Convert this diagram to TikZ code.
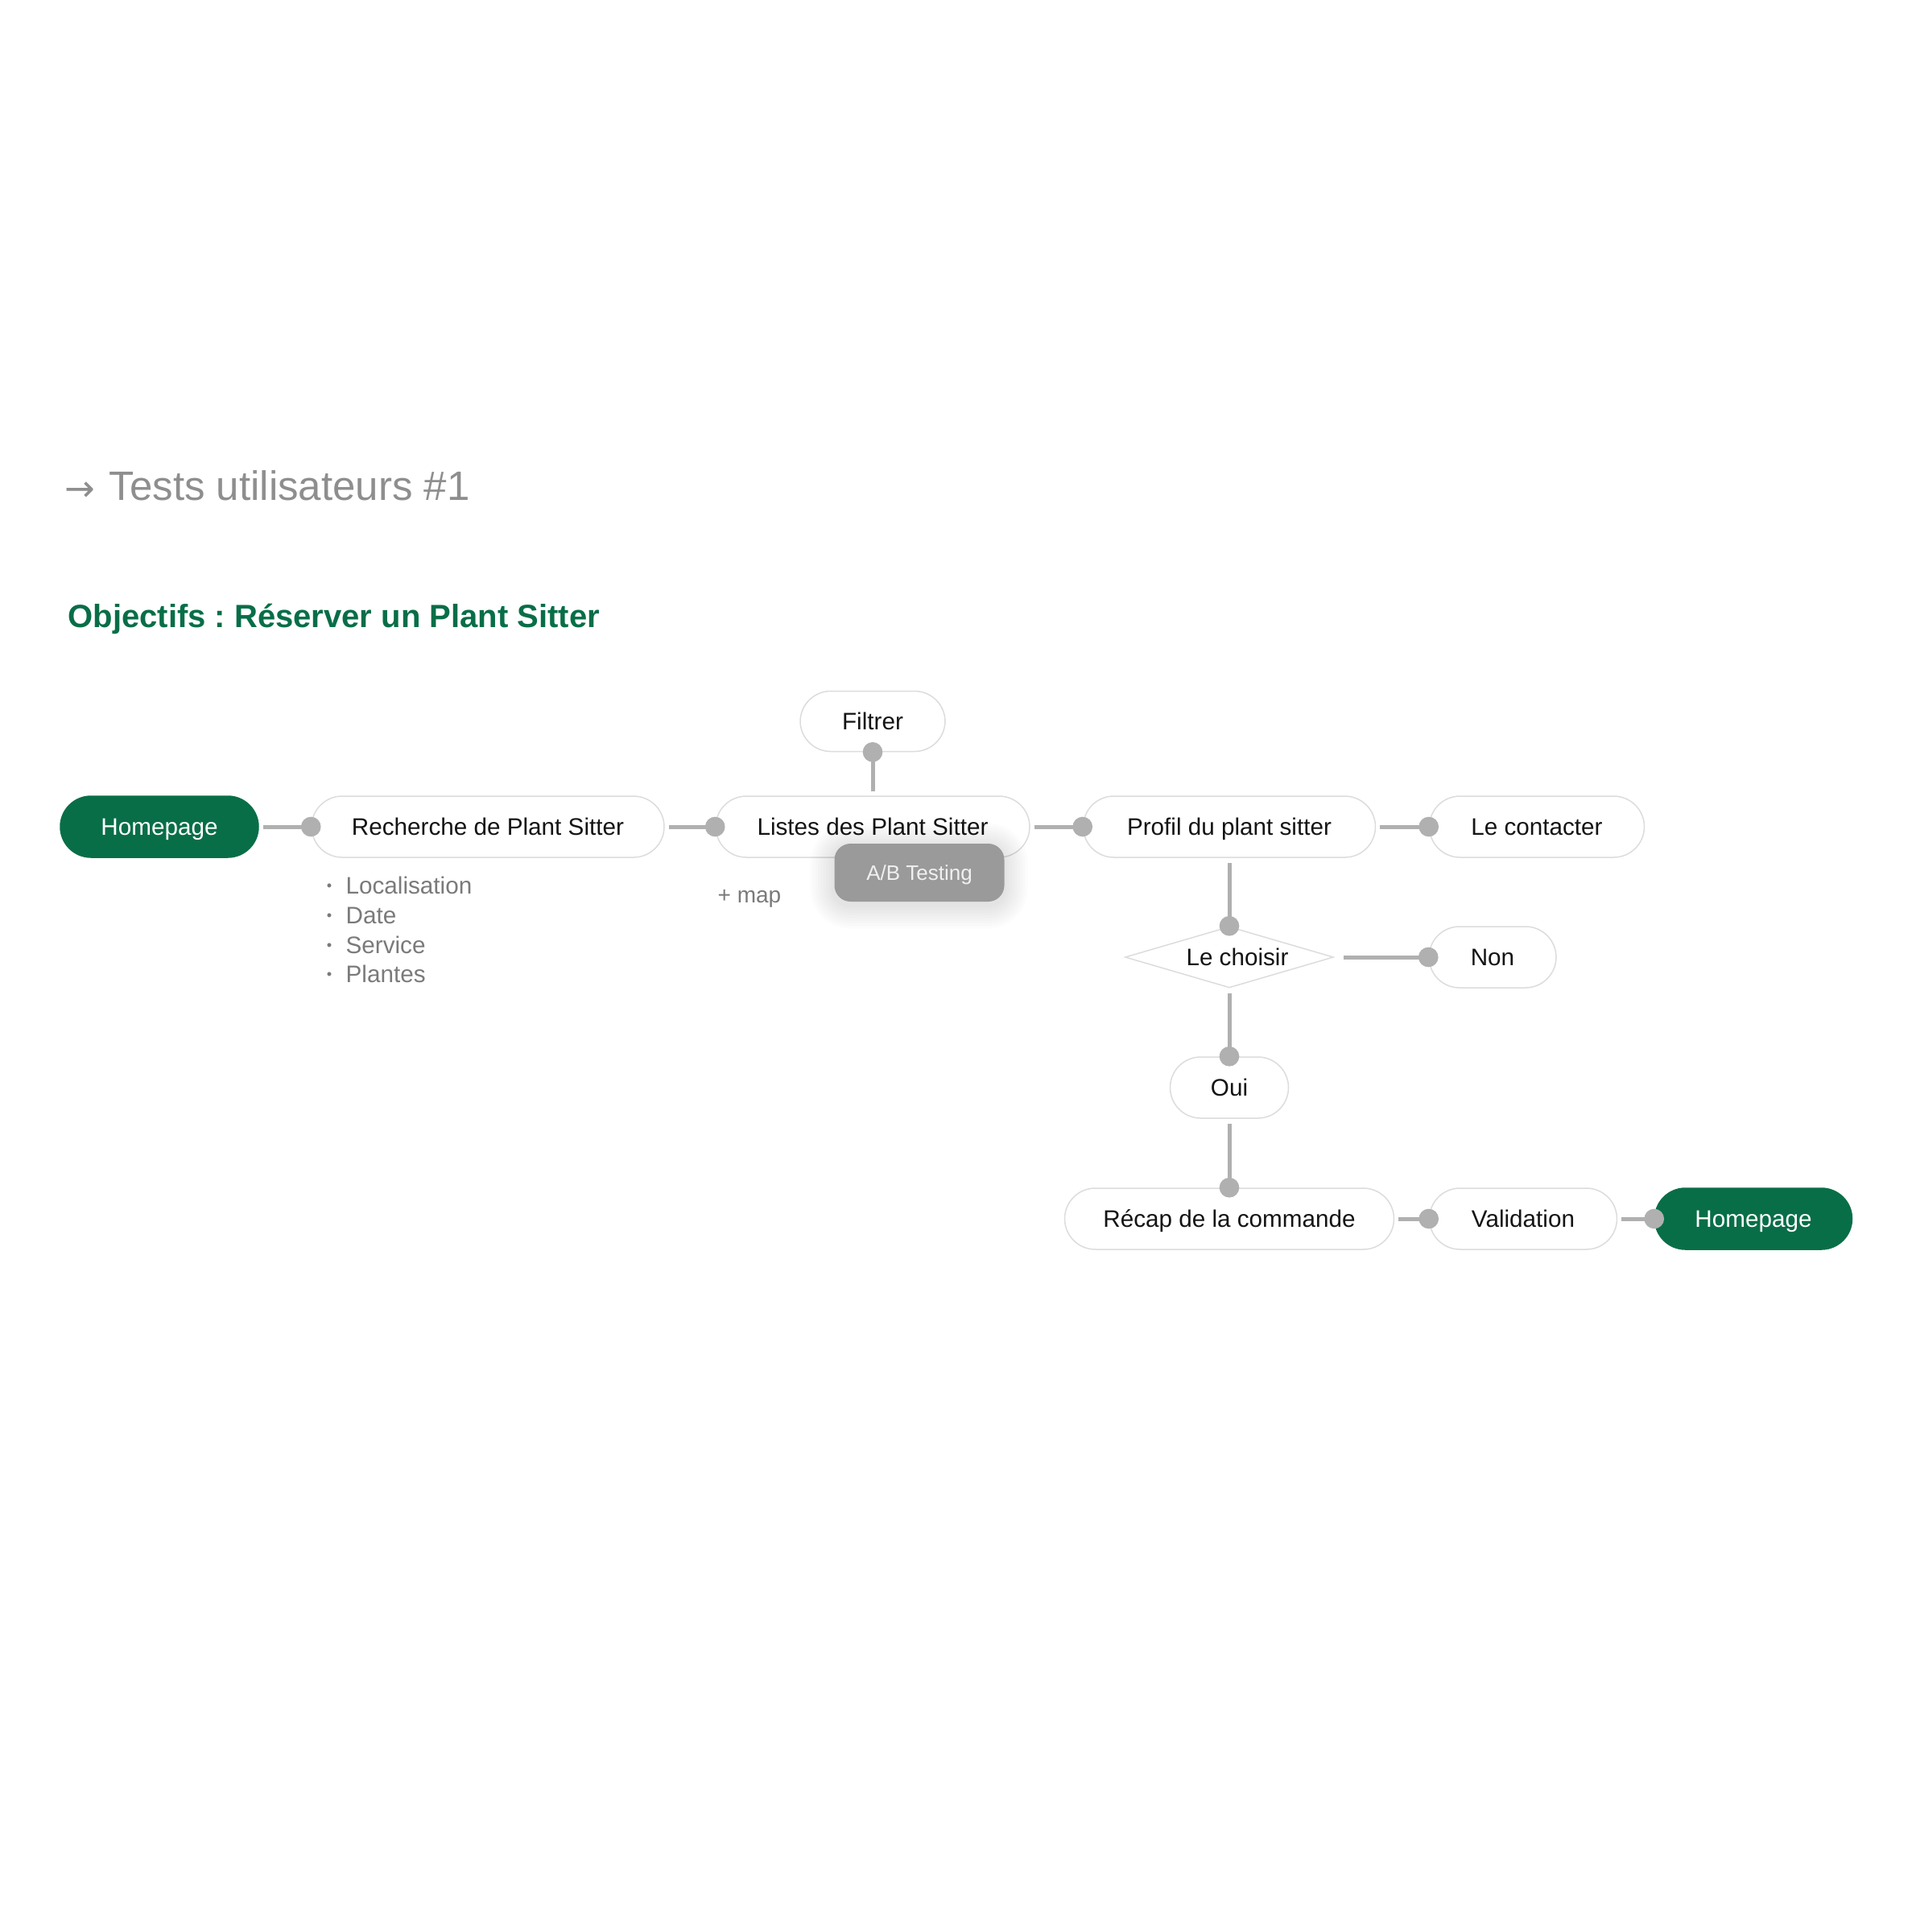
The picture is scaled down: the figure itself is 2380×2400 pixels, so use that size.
\documentclass[tikz,border=0pt]{standalone}
\usepackage{fontspec}
\setmainfont{Liberation Sans}
\newfontfamily\arrowfont{DejaVu Sans}
\usetikzlibrary{shapes.geometric}
\definecolor{brand}{HTML}{086E48}
\definecolor{titlegray}{HTML}{8E8E8E}
\definecolor{edgegray}{HTML}{DCDCDC}
\definecolor{linkgray}{HTML}{B0B0B0}
\definecolor{listgray}{HTML}{7A7A7A}
\definecolor{abgray}{HTML}{9A9A9A}
\definecolor{ink}{HTML}{141414}
\newcommand{\nodefont}{\fontsize{8.9}{10}\selectfont}
\frenchspacing
\begin{document}
\begin{tikzpicture}[x=0.3pt,y=-0.3pt,
  pill/.style={draw=edgegray, line width=0.45pt, fill=white, rounded corners=11.4pt,
    minimum height=22.8pt, inner sep=0pt, font=\nodefont, text=ink,
    text height=6.4pt, text depth=0pt},
  homebox/.style={pill, fill=brand, draw=brand, text=white},
  choice/.style={diamond, draw=edgegray, line width=0.45pt, fill=white, inner sep=0pt,
    aspect=3.4, minimum width=77.7pt, minimum height=22.8pt, font=\nodefont, text=ink,
    text height=6.4pt, text depth=0pt},
  abbox/.style={fill=abgray, rounded corners=6pt, minimum width=63.3pt, minimum height=21.6pt,
    inner sep=0pt, text=white!94!black, font=\fontsize{7.8}{9}\selectfont,
    text height=5.6pt, text depth=0pt},
  link/.style={draw=linkgray, line width=1.5pt},
  dotc/.style={fill=linkgray},
  listtext/.style={anchor=base west, inner sep=0pt, text=listgray, font=\nodefont},
  bul/.style={anchor=center, inner sep=0pt, text=listgray, font=\fontsize{5.5}{6}\selectfont}
]
\useasboundingbox (0,0) rectangle (2380,2400);

% titles
\node[anchor=base west, inner sep=0pt, text=titlegray, font=\arrowfont\fontsize{13.5}{16}\selectfont] (arr) at (80,622) {→};
\node[anchor=base west, inner sep=0pt, text=titlegray, font=\fontsize{15.3}{18}\selectfont] (title) at (135,621) {Tests utilisateurs \#1};
\node[anchor=base west, inner sep=0pt, text=brand, font=\bfseries\fontsize{12}{14}\selectfont] (obj) at (84,779) {Objectifs : Réserver un Plant Sitter};

% nodes
\node[homebox, minimum width=73.8pt] (home1) at (198,1027) {Homepage};
\node[pill, minimum width=131.4pt] (rech) at (606,1027) {Recherche de Plant Sitter};
\node[pill, minimum width=117pt] (listes) at (1084,1027) {Listes des Plant Sitter};
\node[pill, minimum width=54pt, minimum height=22.5pt] (filtrer) at (1084,896) {Filtrer};
\node[pill, minimum width=108.9pt] (profil) at (1527,1027) {Profil du plant sitter};
\node[pill, minimum width=80.1pt] (contact) at (1909,1027) {Le contacter};
\node[choice] (choisir) at (1527,1189) {\hspace*{6pt}Le choisir};
\node[pill, minimum width=47.4pt] (non) at (1854,1189) {Non};
\node[pill, minimum width=44.1pt] (oui) at (1527,1351) {Oui};
\node[pill, minimum width=122.7pt] (recap) at (1527,1514) {Récap de la commande};
\node[pill, minimum width=69.9pt] (valid) at (1892,1514) {Validation};
\node[homebox, minimum width=73.5pt] (home2) at (2178,1514) {Homepage};

% A/B testing shadow + box
\foreach \i in {1,...,9}{
  \fill[black, opacity=0.011, rounded corners={6pt+\i*1pt}]
    (1036-\i*3.3,1052-\i*3.3) rectangle (1247+\i*3.3,1124+\i*3.3);
}
\node[abbox] (ab) at (1142,1084) {A/B Testing};

% annotations
\node[listtext, font=\fontsize{8.4}{10}\selectfont] (map) at (891,1121) {+ map};
\node[bul] (b1) at (409,1102) {•};
\node[listtext] (l1) at (429,1110) {Localisation};
\node[bul] (b2) at (409,1139) {•};
\node[listtext] (l2) at (429,1147) {Date};
\node[bul] (b3) at (409,1176) {•};
\node[listtext] (l3) at (429,1184) {Service};
\node[bul] (b4) at (409,1212) {•};
\node[listtext] (l4) at (429,1220) {Plantes};

% connectors
\draw[link] ([xshift=1.5pt]home1.east) -- (rech.west);
\draw[link] ([xshift=1.5pt]rech.east) -- (listes.west);
\draw[link] ([yshift=1.5pt]listes.north) -- (filtrer.south);
\draw[link] ([xshift=1.5pt]listes.east) -- (profil.west);
\draw[link] ([xshift=1.5pt]profil.east) -- (contact.west);
\draw[link] ([yshift=-1.8pt]profil.south) -- (choisir.north);
\draw[link] ([xshift=3.6pt]choisir.east) -- (non.west);
\draw[link] ([yshift=-1.8pt]choisir.south) -- (oui.north);
\draw[link] ([yshift=-1.8pt]oui.south) -- (recap.north);
\draw[link] ([xshift=1.5pt]recap.east) -- (valid.west);
\draw[link] ([xshift=1.5pt]valid.east) -- (home2.west);

\foreach \p in {rech.west, listes.west, filtrer.south, profil.west, contact.west,
  choisir.north, non.west, oui.north, recap.north, valid.west, home2.west}{
  \fill[dotc] (\p) circle (3.7pt);
}
\end{tikzpicture}
\end{document}
